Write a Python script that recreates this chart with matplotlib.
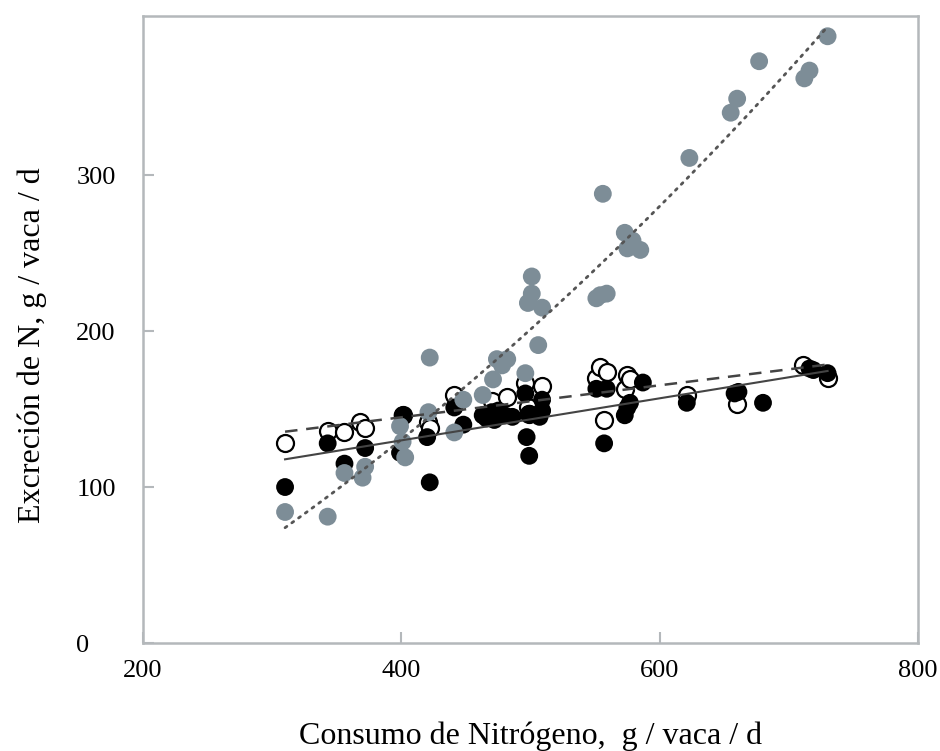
import numpy as np
import matplotlib
matplotlib.use("Agg")
import matplotlib.pyplot as plt

# nitrogen intake (x) and excretion (y), g / cow / d
# grey filled: urine N (quadratic trend, dotted)
gray_x = [310, 343, 356, 372, 370, 399, 401, 403, 421, 422, 441, 448, 463, 471, 474, 482, 478,
          496, 506, 501, 501, 498, 509, 554, 559, 551, 556, 573, 579, 575, 585, 623, 655, 660,
          677, 712, 716, 730]
gray_y = [84, 81, 109, 113, 106, 139, 129, 119, 148, 183, 135, 156, 159, 169, 182, 182, 178,
          173, 191, 235, 224, 218, 215, 223, 224, 221, 288, 263, 258, 253, 252, 311, 340, 349,
          373, 362, 367, 389]

# open circles: faecal N (linear trend, dashed)
open_x = [310, 343, 356, 368, 372, 401, 421, 422, 441, 470, 482, 496, 498, 499, 509, 551, 554,
          559, 557, 573, 575, 577, 621, 660, 711, 730]
open_y = [128, 136, 135, 142, 138, 146, 142, 138, 159, 155, 158, 167, 151, 147, 165, 170, 177,
          174, 143, 163, 172, 169, 159, 153, 178, 170]

# black filled: milk N (linear trend, solid)
black_x = [310, 343, 356, 372, 399, 401, 420, 422, 441, 448, 463, 466, 470, 472, 475, 480, 486,
           496, 497, 499, 499, 509, 509, 507, 551, 559, 557, 587, 577, 575, 573, 621, 658, 661,
           680, 716, 719, 730]
black_y = [100, 128, 115, 125, 122, 146, 132, 103, 151, 140, 146, 144, 148, 143, 149, 146, 145,
           160, 132, 120, 147, 156, 149, 145, 163, 163, 128, 167, 154, 151, 146, 154, 160, 161,
           154, 176, 175, 173]

x_ticks = [200, 400, 600, 800]
y_ticks = [0, 100, 200, 300]

plt.rcParams['font.family'] = ['Liberation Serif', 'DejaVu Serif']

fig = plt.figure(figsize=(9.4, 7.51), dpi=100)
ax = fig.add_axes([0.1521, 0.1438, 0.8245, 0.8349])

gray_col = '#7d8d97'
ax.scatter(open_x, open_y, s=150, facecolors='white', edgecolors='black', linewidths=1.6, zorder=2)
ax.scatter(black_x, black_y, s=165, color='black', edgecolors='none', zorder=3)
ax.scatter(gray_x, gray_y, s=165, color=gray_col, edgecolors='none', zorder=4)

# trend lines fitted to each series
xs = np.linspace(310, 730, 200)
p_gray = np.polyfit(gray_x, gray_y, 2)
p_open = np.polyfit(open_x, open_y, 1)
p_black = np.polyfit(black_x, black_y, 1)
ax.plot(xs, np.polyval(p_gray, xs), color='#555555', lw=2, ls=(0, (0.8, 2.2)),
        dash_capstyle='round', zorder=5)
ax.plot(xs, np.polyval(p_open, xs), color='#444444', lw=1.8, ls=(0, (5, 3.5)), zorder=5)
ax.plot(xs, np.polyval(p_black, xs), color='#444444', lw=1.5, zorder=5)

ax.set_xlim(200, 800)
ax.set_ylim(0, 402)
ax.set_xticks(x_ticks)
ax.set_yticks(y_ticks)

for sp in ax.spines.values():
    sp.set_color('#b4b8bb')
    sp.set_linewidth(1.8)

ax.tick_params(axis='both', direction='in', color='#b4b8bb', width=1.5, length=8, labelsize=19)
ax.tick_params(axis='x', pad=12)
ax.tick_params(axis='y', pad=48)
for lbl in ax.get_yticklabels():
    lbl.set_horizontalalignment('left')

ax.set_xlabel('Consumo de Nitrógeno,  g / vaca / d', fontsize=23, labelpad=29)
ax.set_ylabel('Excreción de N, g / vaca / d', fontsize=23)
ax.yaxis.set_label_coords(-0.124, 0.475)

fig.savefig('out.png', dpi=100)
